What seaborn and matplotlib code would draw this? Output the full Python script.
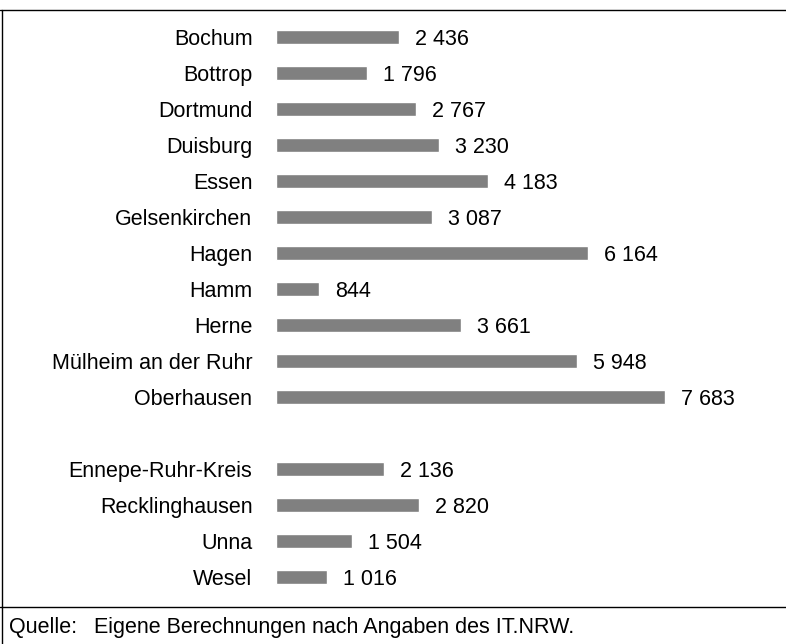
import matplotlib
matplotlib.use("Agg")
import matplotlib.pyplot as plt
from matplotlib.lines import Line2D
import pandas as pd
import seaborn as sns

# data
staedte = ["Bochum", "Bottrop", "Dortmund", "Duisburg", "Essen", "Gelsenkirchen",
           "Hagen", "Hamm", "Herne", "Mülheim an der Ruhr", "Oberhausen"]
staedte_werte = [2436, 1796, 2767, 3230, 4183, 3087, 6164, 844, 3661, 5948, 7683]
kreise = ["Ennepe-Ruhr-Kreis", "Recklinghausen", "Unna", "Wesel"]
kreise_werte = [2136, 2820, 1504, 1016]

df = pd.DataFrame({"Gebiet": staedte + kreise, "Wert": staedte_werte + kreise_werte})
order = staedte + [" "] + kreise

sns.set_style("white")
plt.rcParams["font.family"] = ["Liberation Sans", "DejaVu Sans"]
plt.rcParams["text.color"] = "black"
plt.rcParams["ytick.labelcolor"] = "black"

fs = 15.5

fig = plt.figure(figsize=(7.86, 6.44), dpi=100)
ax = fig.add_axes([276 / 786, 1 - 595 / 644, 506 / 786, 576 / 644])

sns.barplot(data=df, x="Wert", y="Gebiet", order=order, color="#808080",
            saturation=1, width=0.41, ax=ax, orient="h")

ax.set_xlim(0, 10000)
ax.set_ylim(15.5, -0.5)
for c in ax.containers:
    labels = ax.bar_label(c, labels=[f"{v:,.0f}".replace(",", " ") for v in c.datavalues],
                          padding=11.5, fontsize=fs, color="black")
    for t in labels:
        t.set_va("center_baseline")

ax.set_xlabel("")
ax.set_ylabel("")
ax.set_xticks([])
ax.tick_params(axis="y", length=0, pad=17, labelsize=fs, labelcolor="black")
for s in ax.spines.values():
    s.set_visible(False)

# frame lines
fig.add_artist(Line2D([0, 1], [1 - 10 / 644, 1 - 10 / 644], color="black", lw=1))
fig.add_artist(Line2D([0, 1], [1 - 607 / 644, 1 - 607 / 644], color="black", lw=1))
fig.add_artist(Line2D([1.5 / 786, 1.5 / 786], [0, 1 - 10 / 644], color="black", lw=1))

fig.text(9 / 786, 1 - 628 / 644, "Quelle:", fontsize=fs, va="center")
fig.text(94 / 786, 1 - 628 / 644, "Eigene Berechnungen nach Angaben des IT.NRW.",
         fontsize=fs, va="center")

fig.savefig("out.png", dpi=100)
